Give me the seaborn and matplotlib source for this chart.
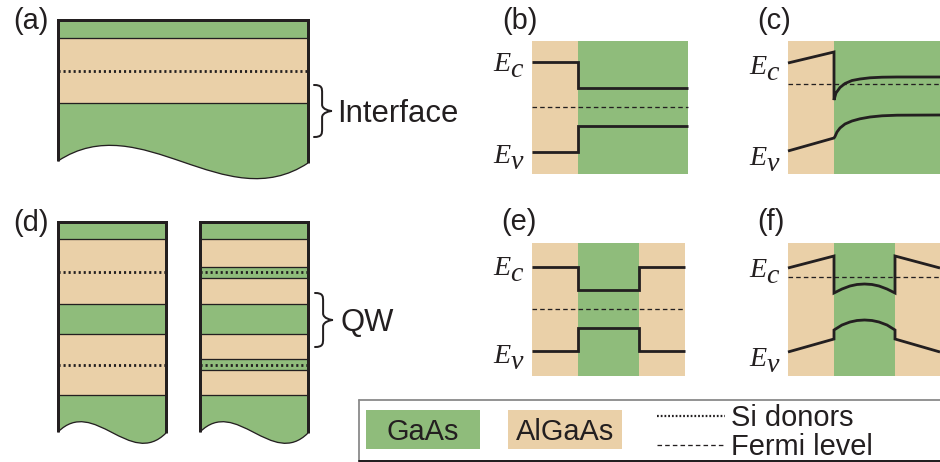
import matplotlib
matplotlib.use("Agg")
import matplotlib.pyplot as plt
from matplotlib.patches import Rectangle, PathPatch
from matplotlib.path import Path
import seaborn as sns

sns.set_theme(style="white")
plt.rcParams["font.family"] = ["Liberation Sans", "DejaVu Sans"]

GAAS = "#8fbc7b"
ALGAAS = "#ead0a8"
INK = "#231f20"
FILL = {"GaAs": GAAS, "AlGaAs": ALGAAS}

W_PX, H_PX, DPI = 940, 462, 100
PT = 72.0 / DPI  # points per pixel

# ---------------- layer stacks (y of each layer top, top to bottom) ----------------
a_span = [58, 308]
a_tops = [20, 38, 103]
a_mats = ["GaAs", "AlGaAs", "GaAs"]
a_donors = [71]
a_cut = [161, 163]

d1_span = [58, 166]
d1_tops = [222, 239, 304, 334, 395]
d1_mats = ["GaAs", "AlGaAs", "GaAs", "AlGaAs", "GaAs"]
d1_donors = [272, 365]

d2_span = [200, 308]
d2_tops = [222, 239, 267, 278, 304, 334, 359, 370, 395]
d2_mats = ["GaAs", "AlGaAs", "GaAs", "AlGaAs", "GaAs", "AlGaAs", "GaAs", "AlGaAs", "GaAs"]
d2_donors = [272, 365]
d_cut = [432, 433]

# ---------------- band diagrams ----------------
b_box = [41, 174]
b_bounds = [532, 578, 688]
b_mats = ["AlGaAs", "GaAs"]
b_ec_x = [532, 578, 578, 688]
b_ec_y = [62, 62, 88, 88]
b_ev_x = [532, 578, 578, 688]
b_ev_y = [152, 152, 126, 126]
b_ef = 107

c_box = [41, 174]
c_bounds = [788, 834, 940]
c_mats = ["AlGaAs", "GaAs"]
c_ec_x = [788, 834, 834, 836, 840, 845, 852, 860, 870, 882, 897, 940]
c_ec_y = [63, 52, 100, 93, 87.5, 83.5, 80.5, 79, 77.8, 77.2, 77, 77]
c_ev_x = [788, 834, 835, 837, 840, 845, 852, 860, 870, 882, 897, 940]
c_ev_y = [151, 138, 136.5, 132, 128, 124, 121, 118.8, 117, 115.8, 115.2, 115]
c_ef = 84

e_box = [243, 376]
e_bounds = [532, 578, 639, 685]
e_mats = ["AlGaAs", "GaAs", "AlGaAs"]
e_ec_x = [532, 578, 578, 639, 639, 685]
e_ec_y = [267, 267, 290, 290, 267, 267]
e_ev_x = [532, 578, 578, 639, 639, 685]
e_ev_y = [351, 351, 328, 328, 351, 351]
e_ef = 309

f_box = [243, 376]
f_bounds = [788, 834, 895, 940]
f_mats = ["AlGaAs", "GaAs", "AlGaAs"]
f_ec_x = [788, 834, 834, 842, 850, 857, 864.5, 872, 879, 887, 895, 895, 940]
f_ec_y = [268, 256, 293, 289, 286, 284.5, 284, 284.5, 286, 289, 293, 256, 268]
f_ev_x = [788, 834, 834, 842, 850, 857, 864.5, 872, 879, 887, 895, 895, 940]
f_ev_y = [352, 339, 330, 325, 322, 320.5, 320, 320.5, 322, 325, 330, 339, 352]
f_ef = 277

# band labels: (x of E, baseline of E_c, baseline of E_v)
band_labels = {"b": (493, 71, 163), "c": (749, 74, 165),
               "e": (493, 275, 363), "f": (749, 277, 366)}

panel_tags = ["(a)", "(b)", "(c)", "(d)", "(e)", "(f)"]
panel_tag_pos = [(13, 29), (502, 29), (757, 29), (13, 231), (501, 230), (757, 230)]

legend_names = ["GaAs", "AlGaAs"]
legend_lines = ["Si donors", "Fermi level"]

fig = plt.figure(figsize=(W_PX / DPI, H_PX / DPI), dpi=DPI)
ax = fig.add_axes([0, 0, 1, 1])
ax.set_xlim(0, W_PX)
ax.set_ylim(H_PX, 0)
ax.axis("off")

SANS = 29 * PT
BIG = 31 * PT
SERIF = 28 * PT
DOT_STYLE = (0, (0.75, 1.05))
DASH_STYLE = (0, (3.5, 2.4))


def cut_curve(x0, x1, yl, yr, depth):
    """Cubic Bezier control points of the wavy cut edge, left to right."""
    w = x1 - x0
    return [(x0, yl), (x0 + w / 3, yl - depth), (x0 + 2 * w / 3, yr + depth), (x1, yr)]


def draw_stack(span, tops, mats, donors, cut, depth):
    x0, x1 = span
    for i, mat in enumerate(mats[:-1]):
        ax.add_patch(Rectangle((x0, tops[i]), x1 - x0, tops[i + 1] - tops[i],
                               facecolor=FILL[mat], edgecolor="none", zorder=1))
    p0, p1, p2, p3 = cut_curve(x0, x1, cut[0], cut[1], depth)
    last = Path([(x0, tops[-1]), (x1, tops[-1]), p3, p2, p1, p0, (x0, tops[-1])],
                [Path.MOVETO, Path.LINETO, Path.LINETO, Path.CURVE4, Path.CURVE4,
                 Path.CURVE4, Path.CLOSEPOLY])
    ax.add_patch(PathPatch(last, facecolor=FILL[mats[-1]], edgecolor="none", zorder=1))
    edge = Path([p0, p1, p2, p3], [Path.MOVETO, Path.CURVE4, Path.CURVE4, Path.CURVE4])
    ax.add_patch(PathPatch(edge, facecolor="none", edgecolor=INK, lw=1.3 * PT, zorder=3))
    ax.hlines(tops[1:], x0, x1, color=INK, lw=1.3 * PT, zorder=2)
    ax.hlines(donors, x0, x1, color=INK, lw=2.8 * PT, linestyles=[DOT_STYLE], zorder=2)
    ax.plot([x0, x1], [tops[0], tops[0]], color=INK, lw=3 * PT, solid_capstyle="projecting", zorder=4)
    ax.plot([x0, x0], [tops[0], cut[0]], color=INK, lw=3 * PT, solid_capstyle="butt", zorder=4)
    ax.plot([x1, x1], [tops[0], cut[1]], color=INK, lw=3 * PT, solid_capstyle="butt", zorder=4)


def draw_brace(x0, y0, y1, tip):
    h = y1 - y0
    yc = (y0 + y1) / 2
    xm = x0 + 0.45 * (tip - x0)
    verts = [(x0, y0), (xm, y0), (xm, y0 + 0.06 * h), (xm, y0 + 0.16 * h),
             (xm, yc - 0.12 * h),
             (xm, yc - 0.03 * h), (tip - 2, yc), (tip, yc),
             (tip - 2, yc), (xm, yc + 0.03 * h), (xm, yc + 0.12 * h),
             (xm, y1 - 0.16 * h),
             (xm, y1 - 0.06 * h), (xm, y1), (x0, y1)]
    codes = [Path.MOVETO] + [Path.CURVE4] * 3 + [Path.LINETO] + [Path.CURVE4] * 6 \
        + [Path.LINETO] + [Path.CURVE4] * 3
    ax.add_patch(PathPatch(Path(verts, codes), facecolor="none", edgecolor=INK,
                           lw=2.0 * PT, capstyle="round", zorder=3))


def draw_bands(bounds, mats, box, ec_x, ec_y, ev_x, ev_y, ef):
    for i, mat in enumerate(mats):
        ax.add_patch(Rectangle((bounds[i], box[0]), bounds[i + 1] - bounds[i], box[1] - box[0],
                               facecolor=FILL[mat], edgecolor="none", zorder=1))
    for xs, ys in ((ec_x, ec_y), (ev_x, ev_y)):
        sns.lineplot(x=xs, y=ys, estimator=None, sort=False, ax=ax, color=INK,
                     lw=2.8 * PT, solid_joinstyle="miter", solid_capstyle="butt",
                     legend=False, zorder=3)
    ax.plot([bounds[0], bounds[-1]], [ef, ef], color=INK, lw=1.3 * PT,
            linestyle=DASH_STYLE, zorder=2)


def band_label(key):
    x, yc, yv = band_labels[key]
    for y, sub in ((yc, "c"), (yv, "v")):
        ax.text(x, y, "E", fontsize=SERIF, family="Liberation Serif", style="italic",
                color=INK, va="baseline", ha="left")
        ax.text(x + 17.5, y + 6, sub, fontsize=SERIF, family="Liberation Serif",
                style="italic", color=INK, va="baseline", ha="left")


# layer sketches
draw_stack(a_span, a_tops, a_mats, a_donors, a_cut, 55)
draw_stack(d1_span, d1_tops, d1_mats, d1_donors, d_cut, 36)
draw_stack(d2_span, d2_tops, d2_mats, d2_donors, d_cut, 36)

draw_brace(314, 85, 137, 332)
ax.text(337, 122, "Interface", fontsize=BIG, color=INK, va="baseline", ha="left")
draw_brace(315, 293, 347, 333)
ax.text(341, 331, "QW", fontsize=BIG, color=INK, va="baseline", ha="left")

# band diagrams
draw_bands(b_bounds, b_mats, b_box, b_ec_x, b_ec_y, b_ev_x, b_ev_y, b_ef)
draw_bands(c_bounds, c_mats, c_box, c_ec_x, c_ec_y, c_ev_x, c_ev_y, c_ef)
draw_bands(e_bounds, e_mats, e_box, e_ec_x, e_ec_y, e_ev_x, e_ev_y, e_ef)
draw_bands(f_bounds, f_mats, f_box, f_ec_x, f_ec_y, f_ev_x, f_ev_y, f_ef)
for k in band_labels:
    band_label(k)

for tag, (x, y) in zip(panel_tags, panel_tag_pos):
    ax.text(x, y, tag, fontsize=SANS, color=INK, va="baseline", ha="left")

# legend box
ax.plot([359, W_PX], [400, 400], color="#8a8a8a", lw=1.8 * PT, zorder=2)
ax.plot([359, 359], [400, 461], color="#8a8a8a", lw=1.8 * PT, zorder=2)
ax.plot([359, W_PX], [461, 461], color=INK, lw=2 * PT, zorder=2)
for (x0, x1), name in zip([(366, 480), (508, 622)], legend_names):
    ax.add_patch(Rectangle((x0, 410), x1 - x0, 39, facecolor=FILL[name],
                           edgecolor="none", zorder=1))
    ax.text((x0 + x1) / 2, 440, name, fontsize=SANS, color=INK, va="baseline", ha="center")
ax.plot([657, 725], [416, 416], color=INK, lw=2.2 * PT, linestyle=(0, (0.8, 0.9)))
ax.plot([657, 725], [445, 445], color=INK, lw=1.3 * PT, linestyle=DASH_STYLE)
ax.text(731, 426, legend_lines[0], fontsize=SANS, color=INK, va="baseline", ha="left")
ax.text(731, 455, legend_lines[1], fontsize=SANS, color=INK, va="baseline", ha="left")

ax.set_xlim(0, W_PX)
ax.set_ylim(H_PX, 0)
fig.savefig("out.png", dpi=DPI)
